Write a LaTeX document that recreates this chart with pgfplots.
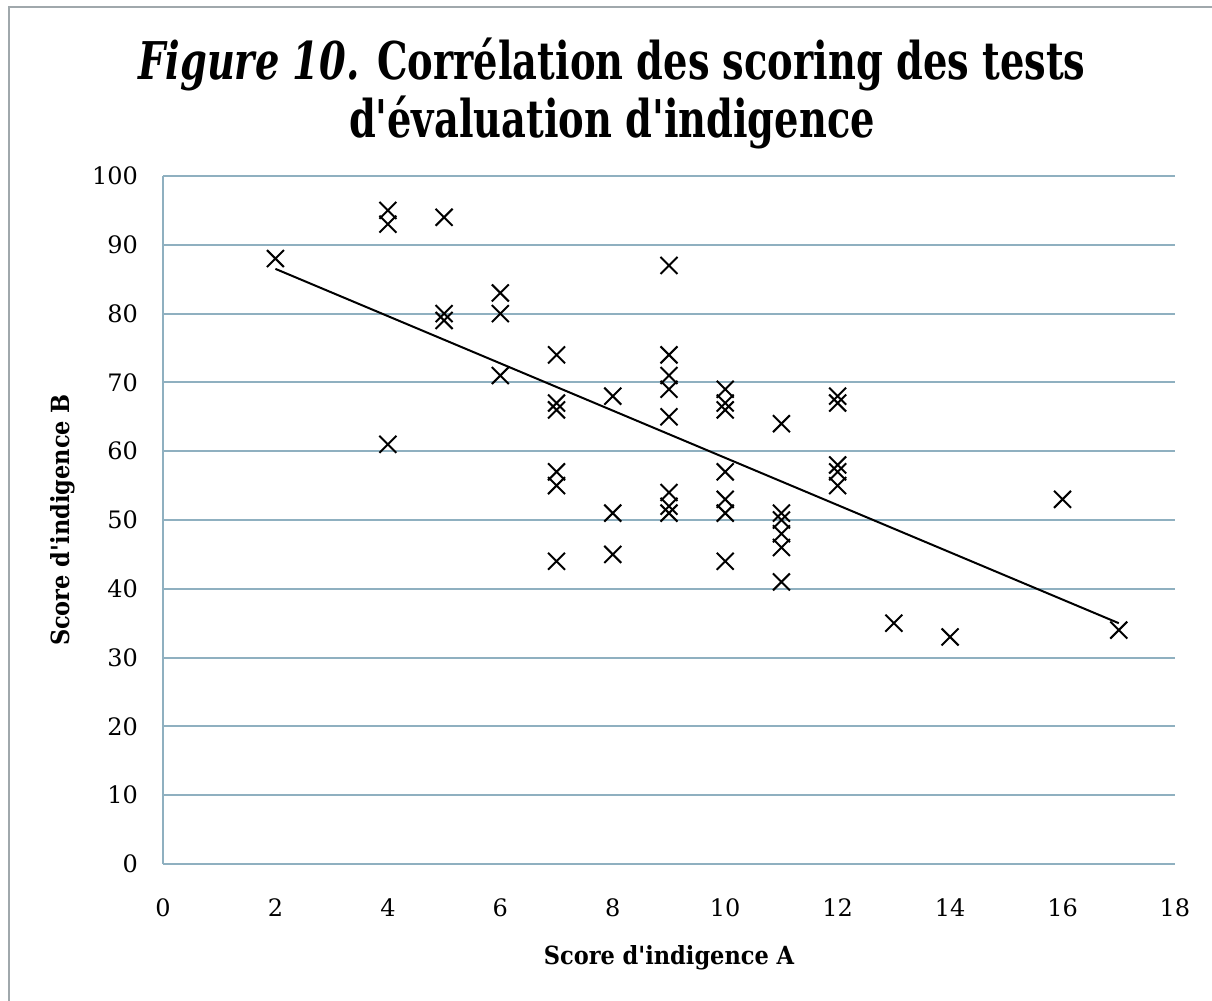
\documentclass[border=0pt]{standalone}
\usepackage{pgfplots}
\pgfplotsset{compat=1.18}
\usepackage{fontspec}
\setmainfont{DejaVu Serif}
\newfontfamily\titlefont{DejaVu Serif Condensed}
\definecolor{gridcol}{HTML}{8FB0C0}
\definecolor{framecol}{HTML}{A0A8AC}

\begin{document}
\begin{tikzpicture}
\useasboundingbox (-81.5pt,-68.5pt) rectangle (524.5pt,432pt);
\draw[framecol, line width=1.2pt] (-77pt,-70pt) -- (-77pt,428.5pt) -- (530pt,428.5pt);

\begin{axis}[
  at={(0,0)}, anchor=south west,
  scale only axis,
  width=506pt, height=344pt,
  xmin=0, xmax=18, ymin=0, ymax=100,
  xtick={0,2,...,18}, ytick={0,10,...,100},
  axis x line=bottom, axis y line=left,
  axis line style={gridcol, line width=1pt, -},
  ymajorgrids, grid style={gridcol, line width=1pt},
  major tick length=0pt,
  tick label style={font=\fontsize{12}{14}\selectfont, /pgf/number format/assume math mode=true},
  xticklabel style={yshift=-14pt},
  yticklabel style={xshift=-9pt},
  xlabel={Score d'indigence A},
  ylabel={Score d'indigence B},
  label style={font=\titlefont\bfseries\fontsize{12.5}{14}\selectfont},
  xlabel style={at={(axis description cs:0.5,0)}, anchor=center, yshift=-47pt},
  ylabel style={at={(axis description cs:0,0.5)}, anchor=center, yshift=50pt},
  clip=false,
]
% points
\addplot[only marks, mark=x, mark size=6pt, mark options={line width=1pt, black}] coordinates {
(2,88)
(4,95) (4,93) (4,61)
(5,94) (5,80) (5,79)
(6,83) (6,80) (6,71)
(7,74) (7,67) (7,66) (7,57) (7,55) (7,44)
(8,68) (8,51) (8,45)
(9,87) (9,74) (9,71) (9,69) (9,65) (9,54) (9,52) (9,51)
(10,69) (10,67) (10,66) (10,57) (10,53) (10,51) (10,44)
(11,64) (11,51) (11,50) (11,48) (11,46) (11,41)
(12,68) (12,67) (12,58) (12,57) (12,55)
(13,35) (14,33) (16,53) (17,34)
};
% droite de tendance
\addplot[black, line width=1pt] coordinates {(2,86.5) (17,35.0)};
\end{axis}

\node[font=\titlefont\bfseries\fontsize{26}{28}\selectfont] at (224.5pt,384pt)
  {\scalebox{0.82}[1]{\begin{tabular}{@{}c@{}}\textit{Figure 10.} Corrélation des scoring des tests\\d'évaluation d'indigence\end{tabular}}};
\end{tikzpicture}
\end{document}
